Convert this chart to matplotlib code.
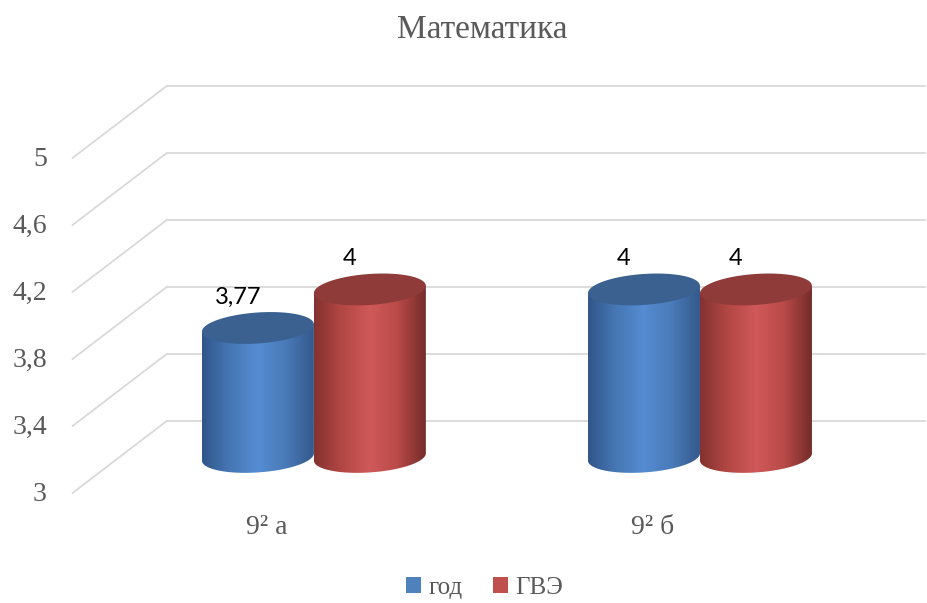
import numpy as np
import matplotlib
matplotlib.use("Agg")
from matplotlib import pyplot as plt
from matplotlib.patches import Polygon, Patch
from matplotlib.colors import LinearSegmentedColormap

# data
categories = ["9² а", "9² б"]
series_names = ["год", "ГВЭ"]
god_values = [3.77, 4]
gve_values = [4, 4]
y_ticks = [3, 3.4, 3.8, 4.2, 4.6, 5]

# layout of the fake 3d box (axis units)
DEPTH_X, DEPTH_Y = 0.122, 0.215
WALL_LEFT, WALL_RIGHT = -0.381, 1.583
BAR_W = 0.29
ELL_H = 0.185
SHEAR = 0.15

TEXT_GREY = "#595959"
GRID_GREY = "#D9D9D9"

blue_cmap = LinearSegmentedColormap.from_list("b", ["#30568A", "#4677B5", "#558CD2", "#4A7AB8", "#34598C"])
red_cmap = LinearSegmentedColormap.from_list("r", ["#843230", "#B34744", "#D0595A", "#B84A47", "#752C2A"])
styles = [(blue_cmap, "#3A6190", "#4F81BD"), (red_cmap, "#8E3B39", "#C0504D")]


def fmt(v):
    return f"{v:g}".replace(".", ",")


def cylinder(ax, xc, value, base, cmap, top_color, z):
    a = BAR_W / 2
    b = ELL_H / 2
    tb = np.linspace(np.pi, 2 * np.pi, 80)
    bx = xc + a * np.cos(tb)
    by = base + b * np.sin(tb) + SHEAR * a * np.cos(tb)
    pts = list(zip(bx, by)) + [(xc + a, value + SHEAR * a), (xc - a, value - SHEAR * a)]
    body = Polygon(pts, closed=True, facecolor="none", edgecolor="none", zorder=z)
    ax.add_patch(body)
    grad = np.linspace(0, 1, 256).reshape(1, -1)
    im = ax.imshow(grad, extent=(xc - a, xc + a, base - b - SHEAR * a, value + b + SHEAR * a),
                   aspect="auto", cmap=cmap, origin="lower", zorder=z, interpolation="bilinear")
    im.set_clip_path(body)
    tt = np.linspace(0, 2 * np.pi, 120)
    tx = xc + a * np.cos(tt)
    ty = value + b * np.sin(tt) + SHEAR * a * np.cos(tt)
    ax.add_patch(Polygon(list(zip(tx, ty)), closed=True, facecolor=top_color,
                         edgecolor="none", zorder=z + 0.1))


fig = plt.figure(figsize=(9.27, 6.03), dpi=100)
ax = fig.add_axes([0, 0, 1, 1])
ax.axis("off")

# back wall gridlines + side diagonals
front_x = WALL_LEFT - 2 * DEPTH_X
for v in y_ticks:
    ax.plot([WALL_LEFT, WALL_RIGHT], [v + DEPTH_Y, v + DEPTH_Y], color=GRID_GREY, lw=1.3, zorder=1)
    ax.plot([front_x, WALL_LEFT], [v - DEPTH_Y, v + DEPTH_Y], color=GRID_GREY, lw=1.3, zorder=1)
    ax.text(front_x - 0.067, v - DEPTH_Y - 0.01, fmt(v), ha="right", va="center",
            fontsize=20, color=TEXT_GREY, family="Liberation Serif")

base = y_ticks[0]
x = np.arange(len(categories))
for s, vals in enumerate([god_values, gve_values]):
    cmap, top, _ = styles[s]
    for i, v in enumerate(vals):
        xc = x[i] + (s - 0.5) * BAR_W
        cylinder(ax, xc, v, base, cmap, top, 3 + s)
        ax.text(xc - 0.052, v + 0.185, fmt(v), ha="center", va="center",
                fontsize=17, color="black", family="Lato", zorder=10)

for i, c in enumerate(categories):
    ax.text(x[i] - DEPTH_X, base - 0.42, c, ha="center", va="center",
            fontsize=20, color=TEXT_GREY, family="Liberation Serif")

fig.text(482 / 927, 1 - 30 / 603, "Математика", ha="center", va="center",
         fontsize=24, color=TEXT_GREY, family="Liberation Serif")

handles = [Patch(facecolor=styles[s][2], edgecolor="none", label=series_names[s]) for s in range(2)]
fig.legend(handles=handles, loc="center", bbox_to_anchor=(0.523, 1 - 588 / 603), ncol=2,
           frameon=False, handlelength=0.6, handleheight=0.6, handletextpad=0.3,
           columnspacing=1.2, prop={"family": "Liberation Serif", "size": 18}, labelcolor=TEXT_GREY)

ax.set_xlim(-0.813, 1.588)
ax.set_ylim(2.128, 5.728)

fig.savefig("out.png", dpi=100)
